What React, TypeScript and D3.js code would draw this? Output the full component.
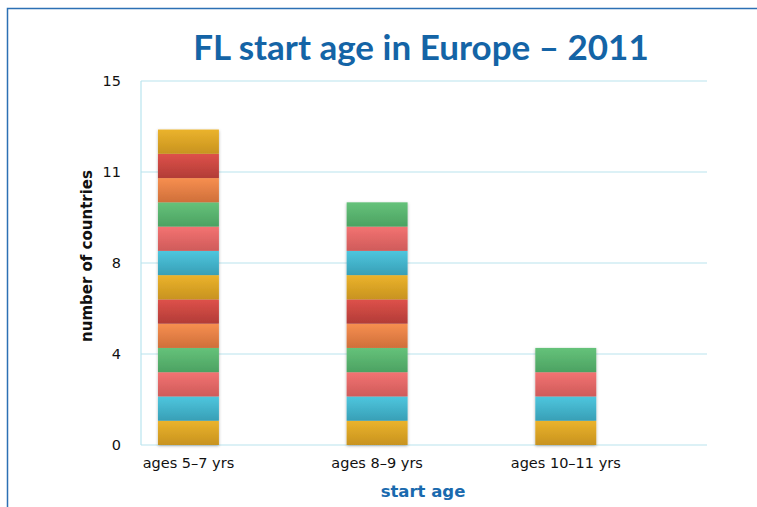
import React from "react";
import * as d3 from "d3";

const categories = ["ages 5-7 yrs", "ages 8-9 yrs", "ages 10-11 yrs"];
const countryCounts = [13, 10, 4];
const yTicks = [0, 3.75, 7.5, 11.25, 15];
const yTickLabels = ["0", "4", "8", "11", "15"];
const segmentColors = [
  ["#ebb32c", "#c8931f"],
  ["#4ec6de", "#389fb6"],
  ["#f37372", "#cf5b5a"],
  ["#65c27a", "#4ca262"],
  ["#f78f50", "#cf6f3a"],
  ["#de514a", "#b23c37"],
];

const W = 757;
const H = 507;
const left = 141;
const right = 707;
const top = 81;
const bottom = 445;

export default function App() {
  const x = d3.scaleBand<string>().domain(categories).range([left, right]).padding(0);
  const y = d3.scaleLinear().domain([0, 15]).range([bottom, top]);
  const step = x.step();
  const bw = step * 0.323;
  const off = step * 0.09;
  const cx = (c: string) => (x(c) as number) + off + bw / 2;
  const grid = "#b9e4ee";
  return (
    <svg width={W} height={H} style={{ position: "absolute", left: 0, top: 0, background: "#fff" }}
      fontFamily="'DejaVu Sans', sans-serif">
      <defs>
        {segmentColors.map((c, i) => (
          <linearGradient key={i} id={`g${i}`} x1="0" y1="0" x2="0" y2="1">
            <stop offset="0" stopColor={c[0]} />
            <stop offset="1" stopColor={c[1]} />
          </linearGradient>
        ))}
        <filter id="sh" x="-20%" y="-5%" width="140%" height="110%">
          <feDropShadow dx="0" dy="1" stdDeviation="1.5" floodColor="#000" floodOpacity="0.3" />
        </filter>
      </defs>
      <rect x={7.5} y={8.5} width={W + 10} height={H + 10} fill="none" stroke="#2c70b4" strokeWidth={1.5} />
      <text x={421} y={60} textAnchor="middle" fill="#1464a6" fontFamily="Lato, sans-serif" fontWeight="bold" fontSize={35}>
        FL start age in Europe – 2011
      </text>
      {yTicks.map((t, i) => (
        <g key={i}>
          <line x1={left} x2={right} y1={y(t)} y2={y(t)} stroke={grid} strokeWidth={1.2} />
          <text x={121} y={y(t) + 5} textAnchor="end" fontSize={14.5} fill="#111">{yTickLabels[i]}</text>
        </g>
      ))}
      <line x1={left} x2={left} y1={top} y2={bottom} stroke={grid} strokeWidth={1.2} />
      {categories.map((c, ci) => (
        <g key={c} filter="url(#sh)">
          {d3.range(countryCounts[ci]).map((k) => (
            <rect key={k} x={cx(c) - bw / 2} y={y(k + 1)} width={bw} height={y(k) - y(k + 1)}
              fill={`url(#g${k % segmentColors.length})`} />
          ))}
        </g>
      ))}
      {categories.map((c) => (
        <text key={c} x={cx(c)} y={468} textAnchor="middle" fontSize={14.5} fill="#111">{c.replace("-", "–")}</text>
      ))}
      <text transform={`translate(92,256) rotate(-90)`} textAnchor="middle" fontSize={15} fontWeight="bold" fill="#111">
        number of countries
      </text>
      <text x={423} y={497} textAnchor="middle" fontSize={16.5} fontWeight="bold" fill="#1a6aae">start age</text>
    </svg>
  );
}
